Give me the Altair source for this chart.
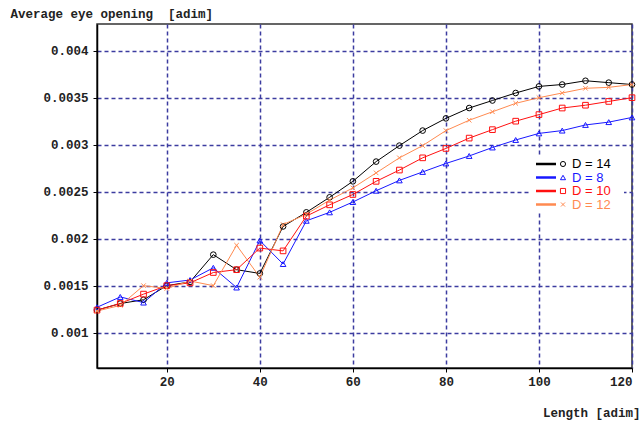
import altair as alt
import pandas as pd

# ---- data -------------------------------------------------------------
x_vals = [5, 10, 15, 20, 25, 30, 35, 40, 45, 50, 55, 60,
          65, 70, 75, 80, 85, 90, 95, 100, 105, 110, 115, 120]

d14 = [0.00124, 0.00131, 0.00135, 0.00150, 0.00154, 0.00183, 0.00167, 0.00163,
       0.00213, 0.00228, 0.00244, 0.00261, 0.00282, 0.00299, 0.00315, 0.00328,
       0.00339, 0.00347, 0.00355, 0.00362, 0.00364, 0.00368, 0.00366, 0.00364]
d8 = [0.00127, 0.00138, 0.00132, 0.00153, 0.00156, 0.00169, 0.00148, 0.00198,
      0.00173, 0.00219, 0.00228, 0.00239, 0.00251, 0.00262, 0.00271, 0.00280,
      0.00288, 0.00297, 0.00305, 0.00312, 0.00315, 0.00321, 0.00324, 0.00329]
d10 = [0.00124, 0.00131, 0.00141, 0.00150, 0.00153, 0.00164, 0.00167, 0.00190,
       0.00187, 0.00224, 0.00236, 0.00247, 0.00261, 0.00273, 0.00286, 0.00296,
       0.00307, 0.00316, 0.00325, 0.00332, 0.00339, 0.00342, 0.00346, 0.00350]
d12 = [0.00123, 0.00129, 0.00150, 0.00147, 0.00155, 0.00150, 0.00193, 0.00159,
       0.00215, 0.00226, 0.00241, 0.00254, 0.00270, 0.00286, 0.00299, 0.00315,
       0.00326, 0.00335, 0.00344, 0.00350, 0.00355, 0.00360, 0.00361, 0.00364]

series_names = ["D = 14", "D = 8", "D = 10", "D = 12"]
series_values = [d14, d8, d10, d12]
series_colors = ["#000000", "#1818ff", "#ff1010", "#ff8a50"]
series_shapes = ["circle", "triangle-up", "square", "M-0.8,-0.8L0.8,0.8M-0.8,0.8L0.8,-0.8"]

x_ticks = [20, 40, 60, 80, 100, 120]
y_ticks = [0.001, 0.0015, 0.002, 0.0025, 0.003, 0.0035, 0.004]

rows = []
for name, vals in zip(series_names, series_values):
    for xv, yv in zip(x_vals, vals):
        rows.append({"series": name, "x": xv, "y": yv})
df = pd.DataFrame(rows)
legend_df = pd.DataFrame({"series": series_names})

# ---- encodings ----------------------------------------------------------
mono = "Liberation Mono"
grid_color = "#3c3ca0"

x_enc = alt.X("x:Q",
              scale=alt.Scale(domain=[5, 120], nice=False, zero=False),
              axis=alt.Axis(values=x_ticks, format="d", title="Length [adim]",
                            titleX=543, titleY=48, titleAlign="right",
                            titleBaseline="alphabetic", labelPadding=3))
y_enc = alt.Y("y:Q",
              scale=alt.Scale(domain=[0.000624, 0.004284], nice=False, zero=False),
              axis=alt.Axis(values=y_ticks, format="~g",
                            title="Average eye opening\u00a0 [adim]",
                            titleAngle=0, titleX=-87, titleY=-7,
                            titleAlign="left", titleBaseline="alphabetic",
                            labelPadding=5))
color_enc = alt.Color("series:N",
                      scale=alt.Scale(domain=series_names, range=series_colors),
                      legend=None)
shape_enc = alt.Shape("series:N",
                      scale=alt.Scale(domain=series_names, range=series_shapes),
                      legend=None)

base = alt.Chart(df)
lines = base.mark_line(strokeWidth=1).encode(x=x_enc, y=y_enc, color=color_enc)
points = base.mark_point(filled=False, size=32, strokeWidth=1, opacity=1).encode(
    x=x_enc, y=y_enc, color=color_enc, shape=shape_enc)
main = alt.layer(lines, points)

leg_y = alt.Y("series:N",
              scale=alt.Scale(type="point", domain=series_names,
                              range=[140, 180.5], padding=0),
              axis=None)
leg = alt.Chart(legend_df)
leg_bg = alt.Chart(legend_df.head(1)).mark_rect(color="white").encode(
    x=alt.value(433), x2=alt.value(527), y=alt.value(133), y2=alt.value(187))
leg_rule = leg.mark_rule(strokeWidth=2.5).encode(
    x=alt.value(439), x2=alt.value(459), y=leg_y, color=color_enc)
leg_pt = leg.mark_point(filled=False, size=26, strokeWidth=1, opacity=1).encode(
    x=alt.value(466), y=leg_y, color=color_enc, shape=shape_enc)
leg_txt = leg.mark_text(align="left", baseline="middle", font="Liberation Sans",
                        fontSize=13).encode(
    x=alt.value(475), y=leg_y, text="series:N", color=color_enc)
legend = alt.layer(leg_bg, leg_rule, leg_pt, leg_txt)

chart = alt.layer(main, legend).resolve_scale(y="independent").properties(
    width=535, height=344,
    padding={"left": 97, "top": 24, "right": 12, "bottom": 53},
    autosize=alt.AutoSizeParams(type="none"),
    background="white",
).configure_view(
    stroke="#333", strokeWidth=1.5
).configure_axis(
    labelFont=mono, labelFontSize=12.5, labelColor="#222", labelFontWeight="bold",
    titleFont=mono, titleFontSize=12.5, titleColor="#222", titleFontWeight="bold",
    domainColor="#000", domainWidth=1.5,
    tickColor="#000", tickSize=4, tickWidth=1,
    grid=True, gridColor=grid_color, gridDash=[4, 3], gridWidth=1.5,
)

chart.save("out.html", embed_options={"renderer": "svg", "actions": False})
